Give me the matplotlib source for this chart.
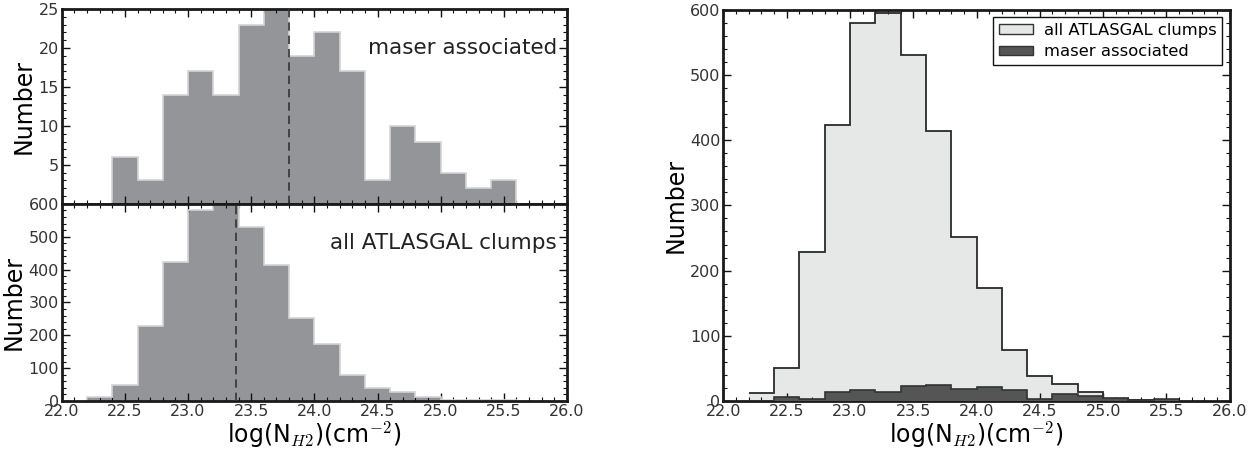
import numpy as np
import matplotlib.pyplot as plt
from matplotlib.ticker import MultipleLocator

plt.rcParams['mathtext.fontset'] = 'cm'
plt.rcParams['font.family'] = 'DejaVu Sans'

# column density bins, log(N_H2), 0.2 dex wide
bin_edges = [22.2, 22.4, 22.6, 22.8, 23.0, 23.2, 23.4, 23.6, 23.8, 24.0,
             24.2, 24.4, 24.6, 24.8, 25.0, 25.2, 25.4, 25.6]
maser_counts = [0, 6, 3, 14, 17, 14, 23, 25, 19, 22, 17, 3, 10, 8, 4, 2, 3]
atlasgal_counts = [12, 50, 228, 424, 580, 595, 531, 414, 251, 174, 78, 38,
                   26, 13, 3, 2, 2]
maser_median = 23.8
atlasgal_median = 23.38

xlabel = r'log(N$_{H2}$)(cm$^{-2}$)'
bar_col = '#939598'
tick_col = '#333333'


def style_axes(ax, ymajor, yminor):
    ax.set_xlim(22.0, 26.0)
    ax.xaxis.set_major_locator(MultipleLocator(0.5))
    ax.xaxis.set_minor_locator(MultipleLocator(0.1))
    ax.yaxis.set_major_locator(MultipleLocator(ymajor))
    ax.yaxis.set_minor_locator(MultipleLocator(yminor))
    ax.tick_params(which='both', direction='in', top=True, right=True,
                   colors='#111111', labelcolor=tick_col, labelsize=11.5)
    ax.tick_params(which='major', length=6, width=1, pad=2)
    ax.tick_params(which='minor', length=3, width=0.8)
    for s in ax.spines.values():
        s.set_linewidth(2)
        s.set_color('#1a1a1a')


def filled_hist(ax, counts):
    # stepfilled histogram: grey fill, pale outline only round the shape
    ax.stairs(counts, bin_edges, fill=True, color=bar_col, zorder=1)
    ax.stairs(counts, bin_edges, color='#d4d4d4', lw=1.2, zorder=2)


fig = plt.figure(figsize=(12.6, 4.51), dpi=100)
ax1 = fig.add_axes([0.049, 0.548, 0.401, 0.432])
ax2 = fig.add_axes([0.049, 0.111, 0.401, 0.437])
ax3 = fig.add_axes([0.574, 0.111, 0.402, 0.867])

# top left: maser associated clumps
filled_hist(ax1, maser_counts)
ax1.axvline(maser_median, color='#333333', ls=(0, (5, 3)), lw=1.2, zorder=3)
style_axes(ax1, 5, 1)
ax1.set_ylim(0, 25)
ax1.set_yticks([5, 10, 15, 20, 25])
ax1.tick_params(labelbottom=False)
ax1.set_ylabel('Number', fontsize=17, labelpad=2)
ax1.text(0.98, 0.8, 'maser associated', transform=ax1.transAxes,
         ha='right', va='center', fontsize=15.5, color='#222222')

# bottom left: all ATLASGAL clumps
filled_hist(ax2, atlasgal_counts)
ax2.axvline(atlasgal_median, color='#333333', ls=(0, (5, 3)), lw=1.2, zorder=3)
style_axes(ax2, 100, 20)
ax2.set_ylim(0, 600)
ax2.set_ylabel('Number', fontsize=17, labelpad=2)
ax2.set_xlabel(xlabel, fontsize=17, labelpad=1)
ax2.text(0.98, 0.8, 'all ATLASGAL clumps', transform=ax2.transAxes,
         ha='right', va='center', fontsize=15.5, color='#222222')

# right: both distributions overlaid
ax3.stairs(atlasgal_counts, bin_edges, fill=True, color='#e6e7e7',
           label='all ATLASGAL clumps', zorder=1)
ax3.stairs(atlasgal_counts, bin_edges, color='#2a2a2a', lw=1.3, zorder=2,
           baseline=None)
ax3.stairs(maser_counts, bin_edges, fill=True, color='#555555',
           label='maser associated', zorder=3)
ax3.stairs(maser_counts, bin_edges, color='#333333', lw=1.2, zorder=4,
           baseline=None)
style_axes(ax3, 100, 20)
ax3.set_ylim(0, 600)
ax3.set_ylabel('Number', fontsize=17, labelpad=2)
ax3.set_xlabel(xlabel, fontsize=17, labelpad=1)
leg = ax3.legend(loc='upper right', fontsize=11.8, fancybox=False,
                 framealpha=1, borderpad=0.35, handlelength=2.1,
                 handleheight=0.55, handletextpad=0.65, labelspacing=0.38,
                 borderaxespad=0.45)
leg.get_frame().set_edgecolor('#111111')
leg.get_frame().set_linewidth(1)
for h in leg.legend_handles:
    h.set_edgecolor('#333333')
    h.set_linewidth(1)

fig.savefig('out.png', dpi=100)
